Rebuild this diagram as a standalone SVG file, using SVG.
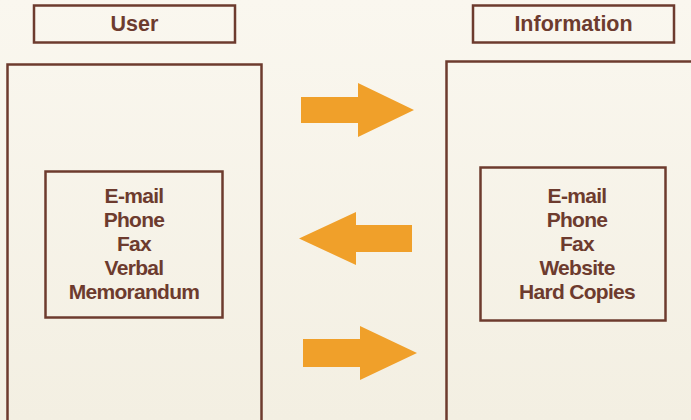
<svg xmlns="http://www.w3.org/2000/svg" width="691" height="420" viewBox="0 0 691 420">
<defs>
<linearGradient id="bg" x1="0" y1="0" x2="0" y2="1">
<stop offset="0" stop-color="#faf7ef"/>
<stop offset="1" stop-color="#f3efe2"/>
</linearGradient>
<style>
.box{fill:none;stroke:#6d3b2e;stroke-width:2.5}
.t{font-family:"Liberation Sans",Arial,sans-serif;font-weight:bold;font-size:21px;fill:#6d3b2e;text-anchor:middle;letter-spacing:-0.7px}
.h{font-family:"Liberation Sans",Arial,sans-serif;font-weight:bold;font-size:21.5px;fill:#6d3b2e;text-anchor:middle}
.arr{fill:#f0a02a}
</style>
</defs>
<rect width="691" height="420" fill="url(#bg)"/>
<g id="user-header">
<rect class="box" x="34" y="5.5" width="201" height="37"/>
<text class="h" x="134.5" y="31">User</text>
</g>
<g id="info-header">
<rect class="box" x="473" y="5.5" width="201" height="37"/>
<text class="h" x="573.5" y="31">Information</text>
</g>
<g id="user">
<rect class="box" x="7.5" y="64.5" width="254" height="360"/>
<rect class="box" x="45.5" y="171.5" width="177" height="146"/>
<text class="t" x="134" y="203">E-mail</text>
<text class="t" x="134" y="227">Phone</text>
<text class="t" x="134" y="251">Fax</text>
<text class="t" x="134" y="275">Verbal</text>
<text class="t" x="134" y="299">Memorandum</text>
</g>
<g id="information">
<rect class="box" x="446.5" y="61.5" width="260" height="363"/>
<rect class="box" x="480.5" y="167.5" width="185" height="153"/>
<text class="t" x="577" y="203">E-mail</text>
<text class="t" x="577" y="227">Phone</text>
<text class="t" x="577" y="251">Fax</text>
<text class="t" x="577" y="275">Website</text>
<text class="t" x="577" y="299">Hard Copies</text>
</g>
<g id="connectors">
<polygon class="arr" points="301,97 358,97 358,83 414,110 358,137 358,123 301,123"/>
<polygon class="arr" points="412,225 356,225 356,212 299,238.5 356,265 356,252 412,252"/>
<polygon class="arr" points="303,339 360,339 360,326 417,353 360,380 360,367 303,367"/>
</g>
</svg>
